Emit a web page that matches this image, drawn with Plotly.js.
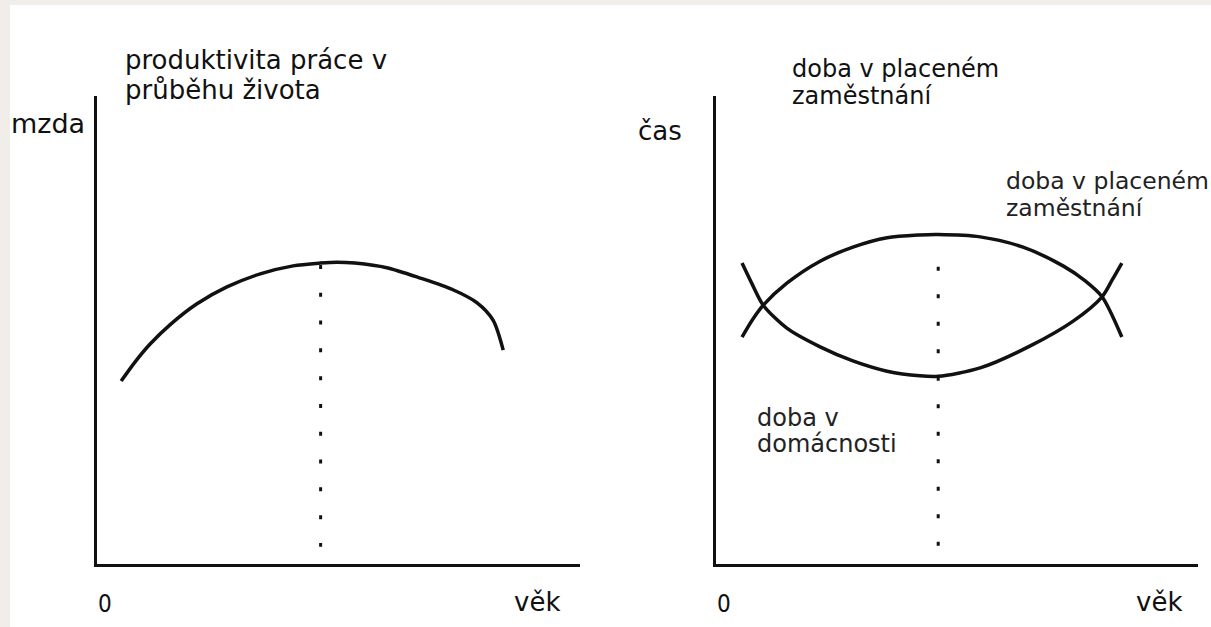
<!DOCTYPE html>
<html>
<head>
<meta charset="utf-8">
<script src="https://cdn.plot.ly/plotly-3.0.1.min.js"></script>
<style>
  html, body { margin: 0; padding: 0; background: #f1eee9; }
  #graph { width: 1211px; height: 627px; }
</style>
</head>
<body>
<div id="graph"></div>
<script>
// left panel: labour productivity over working life (age vs wage, 0-100 units)
const prodAge  = [5.0, 7.9, 11.0, 15.1, 20.7, 26.9, 33.8, 40.6, 46.2, 49.7, 53.4, 60.0, 66.9, 73.7, 78.7, 82.0, 84.1];
const prodWage = [39.1, 43.2, 47.0, 51.1, 55.6, 59.2, 62.0, 63.7, 64.3, 64.5, 64.3, 63.3, 61.1, 58.6, 55.8, 52.1, 45.7];
const prodPeakAge = 46.3;
const prodPeakLine = [63.9, 3.7];

// right panel: time in paid work vs time in household (age vs time)
const paidAge  = [5.4, 7.5, 9.8, 14.7, 21.6, 28.4, 35.5, 42.3, 46.1, 54.8, 63.7, 72.0, 76.6, 80.1, 84.2];
const paidWork = [48.5, 52.1, 55.3, 60.0, 64.7, 67.7, 69.7, 70.3, 70.4, 69.9, 67.7, 63.7, 60.5, 57.1, 48.5];
const homeAge  = [5.4, 7.5, 9.8, 14.7, 21.6, 28.4, 35.5, 42.3, 46.1, 54.8, 65.2, 74.1, 80.1, 82.2, 84.2];
const homeWork = [64.3, 59.8, 55.3, 50.4, 46.4, 43.4, 41.2, 40.2, 40.1, 41.9, 46.6, 51.9, 57.1, 60.7, 64.3];
const timePeakAge = 46.1;
const timePeakLine = [63.5, 3.8];

const W = 1211, H = 627;
const px = x => x / W;
const py = y => 1 - y / H;
const ink = '#111111';
const fontName = 'DejaVu Sans, Verdana, sans-serif';
const narrow = 'DejaVu Sans Condensed, Liberation Sans Narrow, DejaVu Sans, sans-serif';

let curve = { color: ink, width: 3.5, shape: 'spline', smoothing: 0.8 };

let traces = [
    { x: prodAge, y: prodWage, xaxis: 'x', yaxis: 'y', mode: 'lines', line: curve },
    { x: [prodPeakAge, prodPeakAge], y: prodPeakLine, xaxis: 'x', yaxis: 'y', mode: 'lines',
      line: { color: ink, width: 3, dash: '4px,23.8px' } },
    { x: paidAge, y: paidWork, xaxis: 'x2', yaxis: 'y2', mode: 'lines', line: curve },
    { x: homeAge, y: homeWork, xaxis: 'x2', yaxis: 'y2', mode: 'lines', line: curve },
    { x: [timePeakAge, timePeakAge], y: timePeakLine, xaxis: 'x2', yaxis: 'y2', mode: 'lines',
      line: { color: ink, width: 3, dash: '4px,23.5px' } }
];

let axisStyle = {
    range: [0, 100],
    showline: true,
    linecolor: ink,
    linewidth: 3,
    showgrid: false,
    zeroline: false,
    showticklabels: false,
    ticks: '',
    fixedrange: true
};

function label(text, x, y, size, color, family) {
    return {
        text: text, xref: 'paper', yref: 'paper', x: px(x), y: py(y),
        xanchor: 'left', yanchor: 'middle', showarrow: false,
        font: { family: family || fontName, size: size, color: color || ink }
    };
}

let layout = {
    width: W,
    height: H,
    margin: { l: 0, r: 0, t: 0, b: 0 },
    paper_bgcolor: '#f1eee9',
    plot_bgcolor: 'rgba(0,0,0,0)',
    showlegend: false,
    hovermode: false,
    xaxis: Object.assign({}, axisStyle, { domain: [px(97), px(580)], anchor: 'y' }),
    yaxis: Object.assign({}, axisStyle, { domain: [py(564), py(96)], anchor: 'x' }),
    xaxis2: Object.assign({}, axisStyle, { domain: [px(716), px(1198)], anchor: 'y2' }),
    yaxis2: Object.assign({}, axisStyle, { domain: [py(564), py(96)], anchor: 'x2' }),
    shapes: [
        { type: 'rect', xref: 'paper', yref: 'paper', x0: px(10), x1: 1, y0: 0, y1: py(5),
          fillcolor: '#ffffff', line: { width: 0 }, layer: 'below' }
    ],
    annotations: [
        label('produktivita práce v', 123, 60, 26),
        label('průběhu života', 123, 90, 26),
        label('mzda', 9, 123, 27),
        label('0', 96, 604, 24, ink, narrow),
        label('věk', 512, 602, 26),
        label('doba v placeném', 790, 69, 24),
        label('zaměstnání', 790, 96, 24),
        label('čas', 636, 131, 26),
        label('doba v placeném', 1004, 181, 23.5, '#222'),
        label('zaměstnání', 1004, 208, 23.5, '#222'),
        label('doba v', 755, 418, 24, '#222'),
        label('domácnosti', 755, 444, 24, '#222'),
        label('0', 715, 604, 24, ink, narrow),
        label('věk', 1134, 602, 26)
    ]
};

Plotly.newPlot('graph', traces, layout, { staticPlot: true, displayModeBar: false });
</script>
</body>
</html>
